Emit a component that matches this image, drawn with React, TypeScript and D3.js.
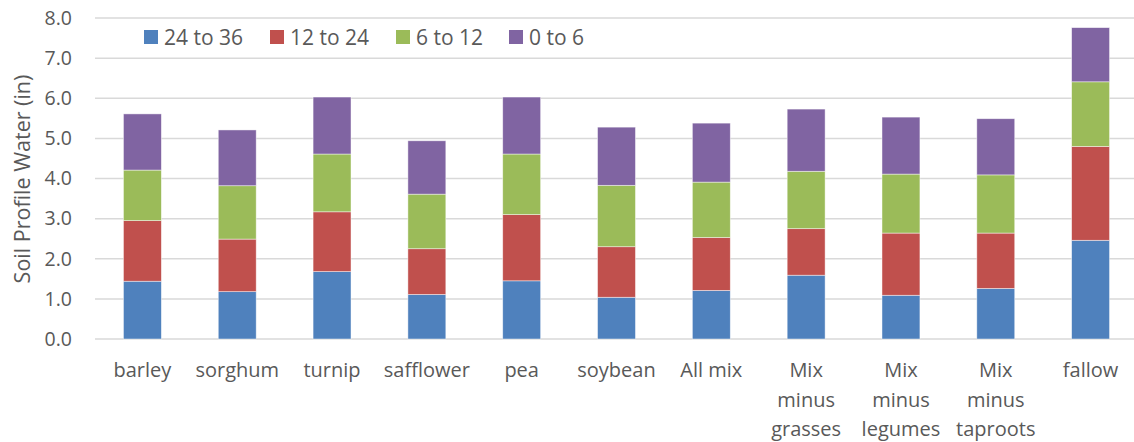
import * as d3 from 'd3';

const categories = [
  'barley', 'sorghum', 'turnip', 'safflower', 'pea', 'soybean', 'All mix',
  'Mix minus grasses', 'Mix minus legumes', 'Mix minus taproots', 'fallow',
];
const seriesNames = ['24 to 36', '12 to 24', '6 to 12', '0 to 6'];
const depth24to36 = [1.44, 1.18, 1.68, 1.11, 1.45, 1.04, 1.21, 1.59, 1.09, 1.26, 2.46];
const depth12to24 = [1.51, 1.31, 1.49, 1.14, 1.65, 1.26, 1.32, 1.16, 1.55, 1.38, 2.34];
const depth6to12 = [1.26, 1.33, 1.44, 1.36, 1.51, 1.53, 1.38, 1.43, 1.47, 1.45, 1.61];
const depth0to6 = [1.40, 1.39, 1.42, 1.33, 1.42, 1.45, 1.47, 1.55, 1.42, 1.40, 1.35];
const yTicks = [0, 1, 2, 3, 4, 5, 6, 7, 8];
const colors = ['#4F81BD', '#C0504D', '#9BBB59', '#8064A2'];

const W = 1134;
const H = 442;
const font = '"Open Sans", sans-serif';
const textColor = '#595959';

export default function App() {
  const rows = categories.map((c, i) => ({
    cat: c,
    '24 to 36': depth24to36[i],
    '12 to 24': depth12to24[i],
    '6 to 12': depth6to12[i],
    '0 to 6': depth0to6[i],
  }));
  const stack = d3.stack<any>().keys(seriesNames)(rows);

  const x = d3.scaleBand<string>().domain(categories).range([95, 1138]).paddingInner(0.6).paddingOuter(0.3);
  const y = d3.scaleLinear().domain([0, 8]).range([339, 18]);

  const legendX = [144, 270, 396, 509];

  return (
    <svg width={W} height={H} style={{ position: 'absolute', left: 0, top: 0, background: '#fff' }} fontFamily={font}>
      {yTicks.map((t) => (
        <g key={t}>
          <line x1={95} x2={W} y1={y(t)} y2={y(t)} stroke="#D9D9D9" strokeWidth={1.5} />
          <text x={72} y={y(t)} dy="0.35em" textAnchor="end" fontSize={19.5} fill={textColor}>
            {t.toFixed(1)}
          </text>
        </g>
      ))}
      {stack.map((s, si) => (
        <g key={s.key} fill={colors[si]}>
          {s.map((d, i) => (
            <rect
              key={i}
              x={x(categories[i])!}
              y={y(d[1])}
              width={x.bandwidth()}
              height={y(d[0]) - y(d[1])}
              stroke="#ffffff"
              strokeOpacity={0.6}
              strokeWidth={0.75}
            />
          ))}
        </g>
      ))}
      {categories.map((c) => {
        const words = c.startsWith('Mix minus') ? ['Mix', 'minus', c.replace('Mix minus ', '')] : [c];
        const cx = x(c)! + x.bandwidth() / 2;
        return (
          <text key={c} x={cx} y={377} textAnchor="middle" fontSize={20} fill={textColor}>
            {words.map((w, k) => (
              <tspan key={k} x={cx} y={377 + k * 29.5}>{w}</tspan>
            ))}
          </text>
        );
      })}
      <text
        transform={`translate(30, 179) rotate(-90)`}
        textAnchor="middle"
        fontSize={21.5}
        fill={textColor}
      >
        Soil Profile Water (in)
      </text>
      {seriesNames.map((n, i) => (
        <g key={n}>
          <rect x={legendX[i]} y={30} width={14} height={14} fill={colors[i]} />
          <text x={legendX[i] + 20} y={44.5} fontSize={21} fill={textColor}>{n}</text>
        </g>
      ))}
    </svg>
  );
}
